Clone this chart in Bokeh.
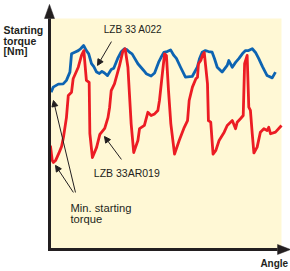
from bokeh.plotting import figure
from bokeh.models import Range1d, Arrow, NormalHead, Label, BoxAnnotation
from bokeh.embed import file_html
from bokeh.resources import INLINE

# ---------------- data (angle and torque in arbitrary chart units, 0..100) ----------------
blue_angle = [0.7, 1.6, 3.8, 5.9, 7.3, 8.8, 9.5, 10.9, 12.4, 13.4, 14.7, 15.9, 16.9, 18.1, 19.1,
              20.3, 21.5, 22.6, 23.7, 25.0, 26.6, 27.7, 29.4, 31.0, 32.3, 33.5, 34.5, 35.6, 38.1,
              40.6, 41.7, 43.8, 45.3, 47.0, 48.1, 49.3, 50.7, 52.2, 53.6, 54.7, 56.5, 58.6, 61.5,
              63.7, 64.7, 65.8, 67.2, 68.5, 70.1, 71.1, 72.3, 74.4, 76.6, 77.3, 78.8, 80.2, 81.6,
              83.2, 84.5, 85.8, 87.4, 88.8, 90.2, 91.8, 93.8, 96.0, 97.4]
blue_torque = [68.1, 70.3, 71.6, 71.7, 73.2, 76.8, 84.7, 85.4, 86.1, 86.9, 88.3, 86.1, 84.7, 80.5, 79.2,
               76.8, 76.2, 77.1, 76.4, 75.3, 77.9, 78.5, 82.7, 85.7, 86.9, 86.4, 85.4, 84.7, 80.4,
               77.5, 76.1, 75.1, 76.4, 81.0, 83.2, 85.3, 85.7, 86.4, 84.0, 82.7, 78.9, 74.6, 74.9,
               78.9, 82.7, 85.4, 86.1, 85.7, 85.4, 82.7, 78.9, 76.8, 79.7, 81.8, 78.9, 81.0, 82.6,
               84.8, 86.1, 86.1, 86.9, 85.3, 82.6, 79.2, 75.3, 74.3, 76.8]

red_angle = [0.4, 1.2, 1.7, 2.6, 4.0, 5.2, 6.0, 7.3, 8.1, 9.5, 10.2, 12.4, 13.8, 14.8, 15.9,
             17.1, 17.4, 18.5, 20.3, 21.7, 23.8, 25.2, 25.9, 26.6, 28.0, 29.4, 30.2, 31.6, 32.6,
             33.8, 35.2, 36.3, 38.1, 38.8, 40.9, 42.4, 43.8, 45.3, 46.7, 47.4, 48.8, 49.6, 50.4,
             51.3, 52.3, 53.9, 55.9, 58.1, 59.5, 60.2, 61.6, 63.1, 63.8, 64.2, 65.2, 65.9, 66.7,
             68.1, 68.5, 69.5, 70.5, 71.7, 73.1, 75.3, 76.6, 78.8, 80.2, 80.9, 82.3, 83.5, 84.1,
             85.2, 85.9, 86.6, 87.4, 88.1, 89.5, 90.9, 92.4, 93.8, 94.5, 95.3, 97.4, 100.0]
red_torque = [45.0, 38.5, 37.7, 38.5, 41.6, 44.6, 48.5, 57.1, 66.7, 68.1, 73.9, 78.9, 84.0, 86.1, 73.2,
              72.3, 50.2, 39.8, 44.2, 49.8, 52.4, 57.1, 61.5, 68.8, 71.7, 76.8, 79.7, 85.7, 86.9,
              78.9, 54.4, 42.0, 47.2, 52.3, 53.7, 59.4, 58.0, 58.7, 60.2, 64.5, 77.5, 84.7, 84.0,
              68.8, 54.4, 41.3, 47.2, 52.9, 55.8, 64.5, 70.3, 73.9, 74.6, 80.4, 81.8, 84.0, 85.3,
              71.7, 55.8, 55.1, 41.3, 42.9, 47.2, 50.8, 53.7, 55.8, 52.3, 55.1, 56.6, 58.0, 80.4,
              84.0, 61.6, 60.2, 50.1, 41.8, 44.3, 50.8, 52.3, 51.5, 52.9, 50.1, 50.8, 53.7]

series_names = ["LZB 33 A022", "LZB 33AR019"]
axis_titles = ["Starting", "torque", "[Nm]"]
x_title = "Angle"
min_label = ["Min. starting", "torque"]

# ---------------- styling ----------------
BLUE = "#0d64b2"
RED = "#ec1c24"
CREAM = "#fff8d5"
INK = "#231f20"
FONT = "Liberation Sans"

# view window in chart units (frame = whole canvas)
X_LO, X_HI = -21.12, 103.88
Y_LO, Y_HI = -9.52, 107.79

p = figure(width=290, height=271, x_range=Range1d(X_LO, X_HI), y_range=Range1d(Y_LO, Y_HI),
           output_backend="svg", toolbar_location=None, x_axis_type=None, y_axis_type=None,
           min_border=0, outline_line_color=None, background_fill_color="white",
           border_fill_color="white")

# plot area background
p.add_layout(BoxAnnotation(left=0, right=100, bottom=0, top=100, fill_color=CREAM,
                           fill_alpha=1.0, line_color=None, level="underlay"))

# curves
p.line(blue_angle, blue_torque, line_color=BLUE, line_width=2.8, line_join="round")
p.line(red_angle, red_torque, line_color=RED, line_width=2.8, line_join="round")

# axes with arrow heads
p.line([0, 0, 98.3], [100, 0, 0], line_color=INK, line_width=3, line_join="miter")
p.patches([[-2.16, 2.16, 0], [98.3, 98.3, 103.9]],
          [[100, 100, 106.1], [2.16, -2.16, 0]],
          fill_color=INK, line_color=INK, line_width=0.5)

# pointer arrows (tail -> head)
ptr_x0 = [26.7, 31.0, 11.2, 10.3]
ptr_y0 = [90.0, 39.0, 24.7, 24.7]
ptr_x1 = [20.7, 23.7, 1.7, 2.6]
ptr_y1 = [79.7, 48.9, 64.5, 36.4]
for xs, ys, xe, ye in zip(ptr_x0, ptr_y0, ptr_x1, ptr_y1):
    p.add_layout(Arrow(x_start=xs, y_start=ys, x_end=xe, y_end=ye, line_color=INK, line_width=1,
                       end=NormalHead(size=6, fill_color=INK, line_color=INK, line_width=1)))

def label(x, y, text, size, bold=False):
    p.add_layout(Label(x=x, y=y, text=text, text_font=FONT, text_font_size=size,
                       text_color=INK, text_baseline="alphabetic", text_align="left",
                       text_font_style="bold" if bold else "normal"))

label(23.4, 95.2, series_names[0], "10px")
label(19.1, 33.3, series_names[1], "10.5px")
label(9.05, 18.0, min_label[0], "11.2px")
label(9.05, 13.2, min_label[1], "11.2px")
for t, yy in zip(axis_titles, [95.0, 90.4, 85.9]):
    label(-19.8, yy, t, "10.5px", bold=True)
label(90.9, -6.2, x_title, "10px", bold=True)

open("out.html", "w").write(file_html(p, INLINE))
